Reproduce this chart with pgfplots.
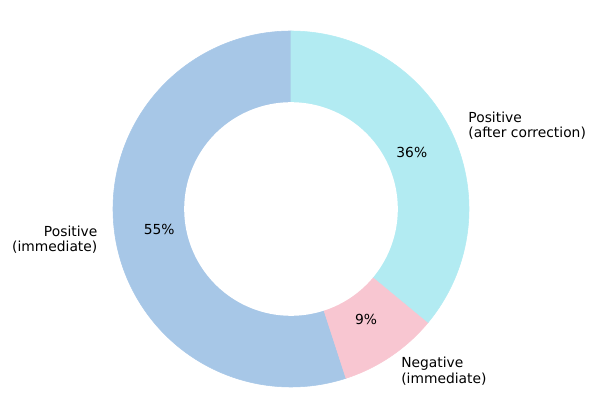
\documentclass[border=0pt]{standalone}
\usepackage{pgfplots}
\usepackage{pgfplotstable}
\pgfplotsset{compat=1.18}
\usepackage{fontspec}
\setmainfont{DejaVu Sans}
\definecolor{cblue}{HTML}{A7C7E7}
\definecolor{cpink}{HTML}{F8C6D1}
\definecolor{ccyan}{HTML}{B2EBF2}
\pgfplotstableread{
idx value
0 55
1 9
2 36
}\piedata
\pgfplotstablegetelem{0}{value}\of\piedata\let\va\pgfplotsretval
\pgfplotstablegetelem{1}{value}\of\piedata\let\vb\pgfplotsretval
\pgfplotstablegetelem{2}{value}\of\piedata\let\vc\pgfplotsretval
\pgfmathsetmacro{\aA}{90}
\pgfmathsetmacro{\aB}{\aA+3.6*\va}
\pgfmathsetmacro{\aC}{\aB+3.6*\vb}
\pgfmathsetmacro{\aD}{\aC+3.6*\vc}
\pgfmathsetmacro{\mA}{(\aA+\aB)/2}
\pgfmathsetmacro{\mB}{(\aB+\aC)/2}
\pgfmathsetmacro{\mC}{(\aC+\aD)/2}
\begin{document}%
\begin{tikzpicture}[font=\fontsize{10}{11.2}\selectfont]
\begin{axis}[
  scale only axis,
  width=429.84bp, height=297.36bp,
  xmin=-1.6348, xmax=1.7191,
  ymin=-1.1461, ymax=1.1742,
  ticks=none,
  axis line style={draw=none},
  clip=false,
]
\addplot[fill=cblue, draw=cblue, line width=0.4pt, domain=\aA:\aB, samples=200, variable=\t]
  ({cos(\t)},{sin(\t)}) -- (axis cs:0,0) -- cycle;
\addplot[fill=cpink, draw=cpink, line width=0.4pt, domain=\aB:\aC, samples=60, variable=\t]
  ({cos(\t)},{sin(\t)}) -- (axis cs:0,0) -- cycle;
\addplot[fill=ccyan, draw=ccyan, line width=0.4pt, domain=\aC:\aD, samples=140, variable=\t]
  ({cos(\t)},{sin(\t)}) -- (axis cs:0,0) -- cycle;
\addplot[fill=white, draw=none, domain=0:360, samples=240, variable=\t]
  ({0.6*cos(\t)},{0.6*sin(\t)}) -- cycle;
\node at (axis cs:{0.75*cos(\mA)},{0.75*sin(\mA)}) {\va\%};
\node at (axis cs:{0.75*cos(\mB)},{0.75*sin(\mB)}) {\vb\%};
\node at (axis cs:{0.75*cos(\mC)},{0.75*sin(\mC)}) {\vc\%};
\node[anchor=east, align=right, inner sep=0pt] at (axis cs:{1.1*cos(\mA)},{1.1*sin(\mA)}) {Positive\\(immediate)};
\node[anchor=west, align=left, inner sep=0pt] at (axis cs:{1.1*cos(\mB)},{1.1*sin(\mB)}) {Negative\\(immediate)};
\node[anchor=west, align=left, inner sep=0pt] at (axis cs:{1.1*cos(\mC)},{1.1*sin(\mC)}) {Positive\\(after correction)};
\end{axis}
\end{tikzpicture}%
\end{document}
